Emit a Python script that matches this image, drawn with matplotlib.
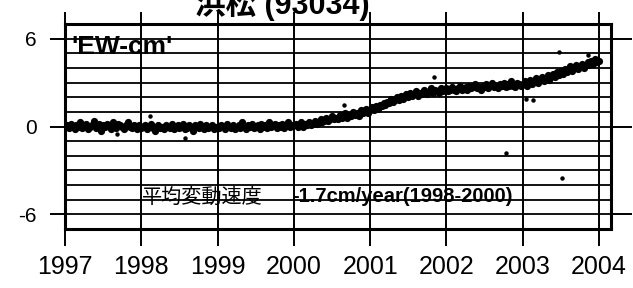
import numpy as np
import matplotlib
matplotlib.use('Agg')
import matplotlib.pyplot as plt

plt.rcParams['font.family'] = ['Liberation Sans', 'Noto Sans CJK JP']

# sampling of the displacement series (every ~9 days)
t_start = 1997.0
t_step = 0.025

ew_1997 = [0.0, 0.1, -0.1, 0.2, 0.0, -0.2, 0.1, 0.0, 0.3, -0.1, 0.1, 0.2, -0.2, 0.0, 0.1, 0.4, -0.1, 0.0, 0.2, -0.3,
           0.1, 0.0, 0.2, 0.1, -0.2, 0.3, 0.0, -0.1, 0.2, 0.1, 0.0, -0.2, 0.1, 0.3, 0.0, -0.1, 0.1, 0.0, -0.2, 0.1]
ew_1998 = [-0.1, 0.0, 0.1, -0.2, 0.0, 0.2, -0.1, -0.3, 0.0, 0.1, -0.1, 0.0, -0.2, 0.1, 0.0, -0.1, 0.2, -0.2, 0.0, 0.1,
           -0.1, 0.0, 0.2, -0.2, -0.1, 0.1, 0.0, -0.3, 0.1, 0.0, -0.1, 0.2, 0.0, -0.2, 0.1, -0.1, 0.0, 0.1, -0.2, 0.0]
ew_1999 = [0.0, -0.1, 0.1, 0.0, -0.2, 0.2, 0.0, -0.1, 0.1, -0.2, 0.0, 0.1, -0.1, 0.3, 0.0, -0.2, 0.1, 0.0, 0.2, -0.1,
           0.0, 0.1, -0.2, 0.2, 0.0, 0.1, -0.1, 0.3, 0.0, 0.1, 0.2, -0.1, 0.1, 0.0, 0.2, -0.1, 0.1, 0.3, 0.0, 0.1]
ew_2000 = [0.1, 0.2, 0.0, 0.1, 0.3, 0.0, 0.2, 0.1, 0.3, 0.1, 0.2, 0.4, 0.2, 0.3, 0.5, 0.3, 0.4, 0.6, 0.4, 0.5,
           0.7, 0.5, 0.6, 0.5, 0.8, 0.6, 0.7, 0.9, 0.6, 0.8, 0.7, 1.0, 0.8, 0.9, 0.7, 1.1, 0.9, 1.0, 1.2, 0.9]
ew_2001 = [1.1, 1.3, 1.1, 1.4, 1.2, 1.5, 1.4, 1.6, 1.5, 1.7, 1.6, 1.9, 1.7, 1.8, 2.0, 1.8, 2.1, 1.9, 2.0, 2.2,
           2.0, 2.3, 2.1, 2.2, 2.4, 2.1, 2.3, 2.2, 2.5, 2.3, 2.2, 2.4, 2.6, 2.3, 2.5, 2.4, 2.3, 2.6, 2.4, 2.5]
ew_2002 = [2.6, 2.4, 2.5, 2.7, 2.5, 2.4, 2.6, 2.8, 2.5, 2.6, 2.7, 2.5, 2.8, 2.6, 2.7, 2.9, 2.6, 2.7, 2.5, 2.8,
           2.7, 2.9, 2.6, 2.8, 3.0, 2.7, 2.8, 2.6, 2.9, 2.8, 3.0, 2.7, 2.9, 2.8, 3.1, 2.8, 2.7, 3.0, 2.9, 2.8]
ew_2003 = [2.9, 3.1, 2.8, 3.0, 3.2, 2.9, 3.1, 3.3, 3.0, 3.2, 3.4, 3.1, 3.3, 3.5, 3.2, 3.4, 3.6, 3.4, 3.7, 3.5,
           3.8, 3.6, 3.9, 3.7, 3.9, 4.1, 3.8, 4.0, 4.2, 3.9, 4.1, 4.3, 4.0, 4.2, 4.4, 4.2, 4.5, 4.3, 4.6, 4.4]
ew_2004 = [4.5]

# isolated points off the main band
out_t = [1997.68, 1998.11, 1998.57, 2000.66, 2000.92, 2001.84, 2002.78, 2003.04, 2003.13, 2003.48, 2003.52, 2003.85]
out_v = [-0.5, 0.75, -0.8, 1.5, 1.2, 3.4, -1.8, 1.9, 1.8, 5.1, -3.5, 4.9]

year_ticks = [1997, 1998, 1999, 2000, 2001, 2002, 2003, 2004]
y_ticks = [6, 0, -6]
y_ticklabels = ['6', '0', '-6']

ew = ew_1997 + ew_1998 + ew_1999 + ew_2000 + ew_2001 + ew_2002 + ew_2003 + ew_2004
t = t_start + t_step * np.arange(len(ew))


def px(x, y):
    return (x / 633, 1 - y / 288)


fig = plt.figure(figsize=(6.33, 2.88), dpi=100)
ax = fig.add_axes([65 / 633, 1 - 229 / 288, 546 / 633, 205 / 288])

ax.plot(t, ew, 'o', color='black', markersize=5.2, markeredgewidth=0)
ax.plot(out_t, out_v, 'o', color='black', markersize=3.2, markeredgewidth=0)

ax.set_xlim(1997.0, 2004.157)
ax.set_ylim(-7, 7)

# grid: every year, every 1 cm
for yr in year_ticks:
    ax.axvline(yr, color='black', lw=1.4, zorder=0)
for v in range(-6, 7):
    ax.axhline(v, color='black', lw=1.3, zorder=0)

ax.set_xticks(year_ticks)
ax.set_xticklabels([str(y) for y in year_ticks], fontsize=18)
ax.set_yticks(y_ticks)
ax.set_yticklabels(y_ticklabels, fontsize=15)
ax.tick_params(axis='x', which='both', direction='out', length=12, width=1.4, pad=7,
               top=True, bottom=True)
ax.tick_params(axis='y', which='both', direction='out', length=10.5, width=1.4, pad=10,
               left=True, right=True)
for tk in ax.xaxis.get_major_ticks():
    tk.tick2line.set_markersize(9)
for tk in ax.yaxis.get_major_ticks():
    tk.tick2line.set_markersize(15)

for s in ax.spines.values():
    s.set_linewidth(2.2)

fig.text(*px(71, 47), "'EW-cm'", fontsize=19, fontweight='bold', va='center', ha='left')

fig.text(*px(142, 197), '平均変動速度', fontsize=14.5, va='center', ha='left')
fig.text(*px(292, 197), '-1.7cm/year(1998-2000)', fontsize=14.5, fontweight='bold', va='center', ha='left')

fig.text(*px(195, 14), '浜松 (93034)', fontsize=22, fontweight='bold', va='baseline', ha='left')

fig.savefig('out.png', dpi=100)
